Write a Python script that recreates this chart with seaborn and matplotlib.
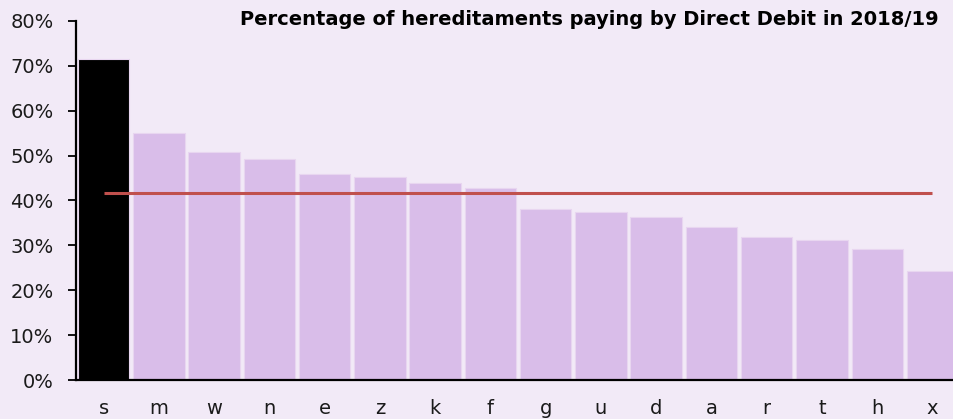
import numpy as np
import pandas as pd
import seaborn as sns
import matplotlib.pyplot as plt
from matplotlib.ticker import FuncFormatter

# values
areas = ["s", "m", "w", "n", "e", "z", "k", "f", "g", "u", "d", "a", "r", "t", "h", "x"]
direct_debit_pct = [71.5, 55.0, 50.9, 49.2, 45.9, 45.2, 43.9, 42.7, 38.1, 37.5, 36.4, 34.0, 31.8, 31.2, 29.2, 24.4]
average_pct = 41.7
highlight = "s"

bg = "#f2eaf7"
bar_col = "#d9bde9"

df = pd.DataFrame({"area": areas, "pct": direct_debit_pct})
colours = {a: ("black" if a == highlight else bar_col) for a in areas}

sns.set_theme(style="white")
plt.rcParams["font.family"] = ["DejaVu Sans"]

fig = plt.figure(figsize=(9.54, 4.19), dpi=100, facecolor=bg)
ax = fig.add_axes([0.0797, 0.093, 0.9203, 0.857])
ax.set_facecolor(bg)

sns.barplot(data=df, x="area", y="pct", hue="area", palette=colours,
            legend=False, width=0.93, edgecolor="#e8d6f0", linewidth=0.8,
            saturation=1, ax=ax)

# average line from first to last bar centre
ax.hlines(average_pct, 0, len(areas) - 1, color="#c0504d", linewidth=2.2, zorder=3)

ax.set_ylim(0, 80)
ax.set_xlim(-0.5, len(areas) - 1 + 0.39)
ax.set_yticks(np.arange(0, 81, 10))
ax.yaxis.set_major_formatter(FuncFormatter(lambda v, p: f"{v:.0f}%"))
ax.set_xlabel("")
ax.set_ylabel("")

sns.despine(ax=ax, top=True, right=True)
for side in ["left", "bottom"]:
    ax.spines[side].set_color("black")
    ax.spines[side].set_linewidth(1.6)

ax.tick_params(axis="y", which="both", left=True, length=5.8, width=1.3,
               color="black", labelsize=14, labelcolor="#1a1a1a", pad=10.5)
ax.tick_params(axis="x", bottom=False, labelsize=14, labelcolor="#1a1a1a", pad=8)

fig.text(0.984, 0.953, "Percentage of hereditaments paying by Direct Debit in 2018/19",
         ha="right", va="center", fontsize=14, fontweight="bold", color="black")

fig.savefig("out.png", dpi=100, facecolor=bg)
